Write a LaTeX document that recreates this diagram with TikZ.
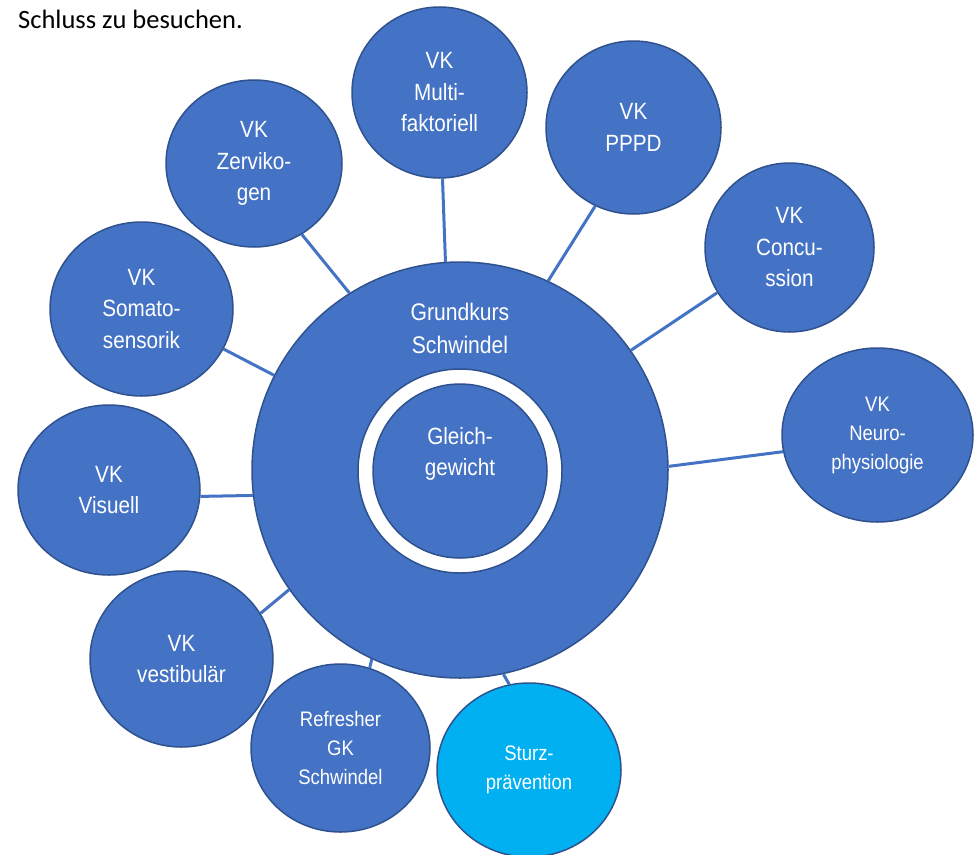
\documentclass[tikz,border=0pt]{standalone}
\usepackage{fontspec}
\usetikzlibrary{shapes.geometric}
\newfontfamily\cf[FakeStretch=0.88]{Liberation Sans}
\newfontfamily\hf{Carlito}
\definecolor{obl}{HTML}{4472C4}
\definecolor{odk}{HTML}{2F528F}
\definecolor{olt}{HTML}{00B0F0}
\tikzset{
  bub/.style args={#1/#2}{ellipse, draw=odk, line width=1.5pt, fill=obl, inner sep=0pt,
     minimum width=2*#1 pt, minimum height=2*#2 pt, text=white, align=center,
     font=\cf\fontsize{23.5}{31.5}\selectfont},
  small/.style={font=\cf\fontsize{21}{29}\selectfont},
  conn/.style={draw=obl, line width=3pt},
  ctext/.style={text=white, align=center, font=\cf\fontsize{24}{33}\selectfont}
}
\begin{document}
\begin{tikzpicture}[x=1pt,y=-1pt]
\useasboundingbox (0,0) rectangle (979,854);
\node[anchor=base west, font=\hf\fontsize{26.5}{30}\selectfont, inner sep=0pt] (head) at (18,28) {Schluss zu besuchen.};
% central donut
\node[circle, draw=odk, line width=1.5pt, fill=obl, minimum size=416pt, inner sep=0pt] (big) at (460,470) {};
\node[circle, draw=odk, line width=1.5pt, fill=white, minimum size=204pt, inner sep=0pt] (hole) at (460,471) {};
\node[circle, draw=odk, line width=1.5pt, fill=obl, minimum size=174pt, inner sep=0pt] (core) at (460,471) {};
\node[ctext] (gk) at (460,328) {Grundkurs\\Schwindel};
\node[ctext, font=\cf\fontsize{23.5}{31}\selectfont] (gg) at (460,454) {Gleich-\\gewicht};
% satellites
\node[bub=87.5/85.5] (multi) at (439.5,92.5) {VK\\Multi-\\faktoriell};
\node[bub=88/83.5] (zerv) at (254,163.5) {VK\\Zerviko-\\gen};
\node[bub=91.5/87] (soma) at (141.5,309) {VK\\Somato-\\sensorik};
\node[bub=91/85] (vis) at (109,490) {VK\\Visuell};
\node[bub=91.5/88] (vest) at (181.5,659) {VK\\vestibulär};
\node[bub=89.5/84, small] (refr) at (340.5,748) {Refresher\\GK\\Schwindel};
\node[bub=92/87, small, fill=olt] (sturz) at (529,770) {Sturz-\\prävention};
\node[bub=87.5/86.5] (pppd) at (633.5,127.5) {VK\\PPPD};
\node[bub=84.5/84.5] (conc) at (789.5,247.5) {VK\\Concu-\\ssion};
\node[bub=95.5/87, small] (neuro) at (877.5,435) {VK\\Neuro-\\physiologie};
% connectors
\draw[conn] (multi.-88.1) -- (big.94.1);
\draw[conn] (zerv.-56.5) -- (big.122.9);
\draw[conn] (soma.-26.8) -- (big.153.9);
\draw[conn] (vis.-4.4) -- (big.187.9);
\draw[conn] (vest.30.2) -- (big.215.7);
\draw[conn] (refr.70.3) -- (big.245.3);
\draw[conn] (sturz.103.6) -- (big.282.6);
\draw[conn] (pppd.244.6) -- (big.65.9);
\draw[conn] (conc.212.6) -- (big.35.9);
\draw[conn] (neuro.190.8) -- (big.1.1);
\end{tikzpicture}
\end{document}
